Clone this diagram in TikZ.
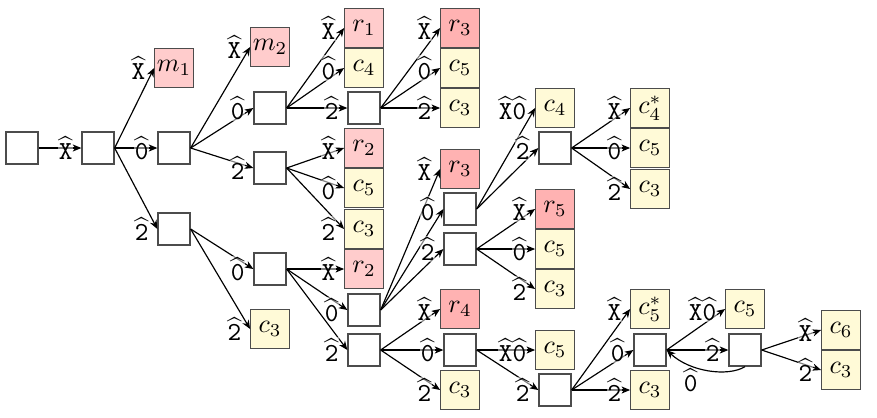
\documentclass[tikz,border=0pt]{standalone}
\usepackage{amsmath,amssymb}
\usepackage{tikz}
\usetikzlibrary{arrows.meta}

\definecolor{redlight}{RGB}{255,204,204}
\definecolor{reddeep}{RGB}{255,178,178}
\definecolor{yellowlight}{RGB}{255,250,215}

\newcommand{\opX}{\widehat{\mathtt{X}}}
\newcommand{\opZero}{\widehat{\mathtt{0}}}
\newcommand{\opTwo}{\widehat{\mathtt{2}}}

\begin{document}
\begin{tikzpicture}[
    x=0.3846pt,y=-0.3846pt,
    state/.style={draw=black!70,fill=white,line width=0.5pt,
      minimum size=12.3pt,inner sep=0pt},
    leaf/.style={draw=black!70,line width=0.5pt,
      minimum size=14.8pt,inner sep=0.5pt},
    loss/.style={leaf,fill=redlight},
    lossdeep/.style={leaf,fill=reddeep},
    win/.style={leaf,fill=yellowlight},
    arrow/.style={-{Stealth[length=3.4pt,width=2.8pt]},draw=black,line width=0.45pt},
    lbl/.style={pos=1,anchor=east,xshift=-2.9pt,fill=white,fill opacity=0.5,
      text opacity=1,inner sep=0.3pt}
  ]
    \useasboundingbox (0,0) rectangle (877,417);
    \node[state] (root) at (22,148) {};
    \node[state] (a1) at (98,148) {};
    \node[loss] (m1) at (174,68) {$m_1$};
    \node[state] (a2) at (174,148) {};
    \node[state] (a3) at (174,229) {};
    \node[loss] (m2) at (270,47) {$m_2$};
    \node[state] (b1) at (270,108) {};
    \node[state] (b2) at (270,168) {};
    \node[state] (b3) at (270,269) {};
    \node[win] (c3a) at (270,329) {$c_3$};
    \node[loss] (r1) at (364,28) {$r_1$};
    \node[win] (c4a) at (364,68) {$c_4$};
    \node[state] (d1) at (364,108) {};
    \node[loss] (r2a) at (364,148) {$r_2$};
    \node[win] (c5a) at (364,188) {$c_5$};
    \node[win] (c3b) at (364,229) {$c_3$};
    \node[loss] (r2b) at (364,269) {$r_2$};
    \node[state] (d2) at (364,310) {};
    \node[state] (d3) at (364,350) {};
    \node[lossdeep] (r3a) at (460,28) {$r_3$};
    \node[win] (c5b) at (460,68) {$c_5$};
    \node[win] (c3c) at (460,108) {$c_3$};
    \node[lossdeep] (r3b) at (460,169) {$r_3$};
    \node[state] (e1) at (460,209) {};
    \node[state] (e2) at (460,249) {};
    \node[lossdeep] (r4) at (460,309) {$r_4$};
    \node[state] (e3) at (460,350) {};
    \node[win] (c3d) at (460,390) {$c_3$};
    \node[win] (c4b) at (555,108) {$c_4$};
    \node[state] (f1) at (555,148) {};
    \node[lossdeep] (r5) at (555,209) {$r_5$};
    \node[win] (c5c) at (555,249) {$c_5$};
    \node[win] (c3e) at (555,289) {$c_3$};
    \node[win] (c5d) at (555,350) {$c_5$};
    \node[state] (f2) at (555,390) {};
    \node[win] (c4s) at (650,108) {$c_4^*$};
    \node[win] (c5e) at (650,148) {$c_5$};
    \node[win] (c3f) at (650,189) {$c_3$};
    \node[win] (c5s) at (650,309) {$c_5^*$};
    \node[state] (g1) at (650,350) {};
    \node[win] (c3g) at (650,390) {$c_3$};
    \node[win] (c5f) at (745,309) {$c_5$};
    \node[state] (h1) at (745,350) {};
    \node[win] (c6) at (841,330) {$c_6$};
    \node[win] (c3h) at (841,370) {$c_3$};
    \draw[arrow] (root.east)--node[lbl]{$\opX$}(a1.west);
    \draw[arrow] (a1.east)--node[lbl]{$\opX$}(m1.west);
    \draw[arrow] (a1.east)--node[lbl]{$\opZero$}(a2.west);
    \draw[arrow] (a1.east)--node[lbl]{$\opTwo$}(a3.west);
    \draw[arrow] (a2.east)--node[lbl]{$\opX$}(m2.west);
    \draw[arrow] (a2.east)--node[lbl]{$\opZero$}(b1.west);
    \draw[arrow] (a2.east)--node[lbl]{$\opTwo$}(b2.west);
    \draw[arrow] (a3.east)--node[lbl]{$\opZero$}(b3.west);
    \draw[arrow] (a3.east)--node[lbl]{$\opTwo$}(c3a.west);
    \draw[arrow] (b1.east)--node[lbl]{$\opX$}(r1.west);
    \draw[arrow] (b1.east)--node[lbl]{$\opZero$}(c4a.west);
    \draw[arrow] (b1.east)--node[lbl]{$\opTwo$}(d1.west);
    \draw[arrow] (b2.east)--node[lbl]{$\opX$}(r2a.west);
    \draw[arrow] (b2.east)--node[lbl]{$\opZero$}(c5a.west);
    \draw[arrow] (b2.east)--node[lbl]{$\opTwo$}(c3b.west);
    \draw[arrow] (b3.east)--node[lbl]{$\opX$}(r2b.west);
    \draw[arrow] (b3.east)--node[lbl]{$\opZero$}(d2.west);
    \draw[arrow] (b3.east)--node[lbl]{$\opTwo$}(d3.west);
    \draw[arrow] (d1.east)--node[lbl]{$\opX$}(r3a.west);
    \draw[arrow] (d1.east)--node[lbl]{$\opZero$}(c5b.west);
    \draw[arrow] (d1.east)--node[lbl]{$\opTwo$}(c3c.west);
    \draw[arrow] (d2.east)--node[lbl]{$\opX$}(r3b.west);
    \draw[arrow] (d2.east)--node[lbl]{$\opZero$}(e1.west);
    \draw[arrow] (d2.east)--node[lbl]{$\opTwo$}(e2.west);
    \draw[arrow] (d3.east)--node[lbl]{$\opX$}(r4.west);
    \draw[arrow] (d3.east)--node[lbl]{$\opZero$}(e3.west);
    \draw[arrow] (d3.east)--node[lbl]{$\opTwo$}(c3d.west);
    \draw[arrow] (e1.east)--node[lbl]{$\opX\opZero$}(c4b.west);
    \draw[arrow] (e1.east)--node[lbl]{$\opTwo$}(f1.west);
    \draw[arrow] (e2.east)--node[lbl]{$\opX$}(r5.west);
    \draw[arrow] (e2.east)--node[lbl]{$\opZero$}(c5c.west);
    \draw[arrow] (e2.east)--node[lbl]{$\opTwo$}(c3e.west);
    \draw[arrow] (e3.east)--node[lbl]{$\opX\opZero$}(c5d.west);
    \draw[arrow] (e3.east)--node[lbl]{$\opTwo$}(f2.west);
    \draw[arrow] (f1.east)--node[lbl]{$\opX$}(c4s.west);
    \draw[arrow] (f1.east)--node[lbl]{$\opZero$}(c5e.west);
    \draw[arrow] (f1.east)--node[lbl]{$\opTwo$}(c3f.west);
    \draw[arrow] (f2.east)--node[lbl]{$\opX$}(c5s.west);
    \draw[arrow] (f2.east)--node[lbl]{$\opZero$}(g1.west);
    \draw[arrow] (f2.east)--node[lbl]{$\opTwo$}(c3g.west);
    \draw[arrow] (g1.east)--node[lbl]{$\opX\opZero$}(c5f.west);
    \draw[arrow] (g1.east)--node[lbl]{$\opTwo$}(h1.west);
    \draw[arrow] (h1.east)--node[lbl]{$\opX$}(c6.west);
    \draw[arrow] (h1.east)--node[lbl]{$\opTwo$}(c3h.west);
    \draw[arrow] (h1.south) .. controls (728,377) and (690,372) ..
      node[pos=0.7,anchor=north,inner sep=1pt]{$\opZero$} (g1.east);
  \end{tikzpicture}
\end{document}
